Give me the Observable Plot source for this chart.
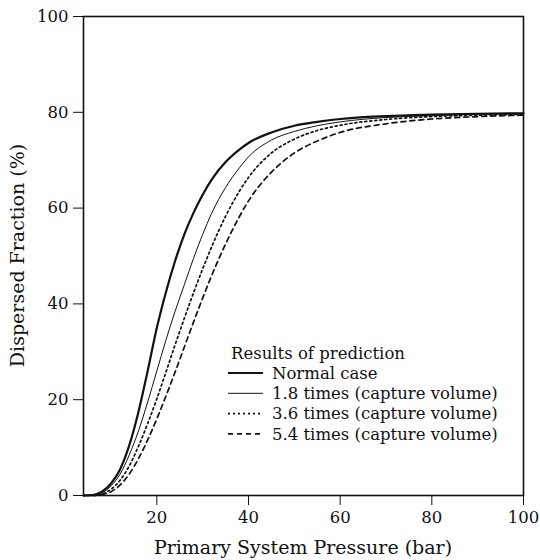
<!DOCTYPE html>
<html><head><meta charset="utf-8">
<script src="https://cdn.jsdelivr.net/npm/d3@7"></script>
<script src="https://cdn.jsdelivr.net/npm/@observablehq/plot@0.6"></script>
<style>body{margin:0;background:#fff} #chart{width:540px;height:560px}</style>
</head><body><div id="chart"></div>
<script>
// Primary system pressure (bar)
const pressure = [4,6,8,10,12,14,16,18,20,22,24,26,28,30,32,35,38,40,45,50,55,60,70,80,90,100];
// Dispersed fraction (%)
const normalCase = [0,0.1,0.8,2.5,5.5,10.5,17.5,26,35,42.5,49,54.5,59,62.8,66,69.6,72.2,73.6,75.8,77.2,78,78.6,79.2,79.5,79.7,79.8];
const times18   = [0,0,0.5,2,4.5,8.5,13.5,19.5,26,32.5,38.5,44,49.5,54.5,59,64.3,68.4,70.7,74.2,76,77.2,78,78.9,79.3,79.6,79.7];
const times36   = [0,0,0.3,1.3,3.2,6.2,10.3,15,20.2,25.8,31.5,37,42.3,47.3,52,58.3,63.5,66.4,71.5,74.4,76.2,77.3,78.5,79.1,79.4,79.6];
const times54   = [0,0,0.2,0.8,2.2,4.5,7.7,11.6,16,20.8,25.8,31,36.2,41.2,46,52.5,58.2,61.5,67.5,71.5,74,75.8,77.6,78.6,79.1,79.4];
const seriesNames = ["Normal case","1.8 times (capture volume)","3.6 times (capture volume)","5.4 times (capture volume)"];
const seriesValues = [normalCase, times18, times36, times54];
const xTicks = [20,40,60,80,100];
const yTicks = [0,20,40,60,80,100];
const xLabel = "Primary System Pressure (bar)";
const yLabel = "Dispersed Fraction (%)";
const legendTitle = "Results of prediction";

const lineStyles = [
  {strokeWidth:2.2, dash:null},
  {strokeWidth:1, dash:null},
  {strokeWidth:1.7, dash:"2,3"},
  {strokeWidth:1.7, dash:"5,4"}
];

const rows = [];
seriesValues.forEach((vals,i)=>vals.forEach((v,j)=>rows.push({series:seriesNames[i], x:pressure[j], y:v})));

const font = "DejaVu Serif";
const chart = Plot.plot({
  width:540, height:560,
  marginLeft:83, marginRight:17, marginTop:16, marginBottom:65,
  style:{fontFamily:font, fontSize:"16.5px", color:"#111", background:"white"},
  x:{domain:[4,100]},
  y:{domain:[0,100]},
  marks:[
    Plot.axisX({ticks:xTicks, tickSize:10, tickPadding:6, label:null, fontSize:16.5}),
    Plot.axisY({ticks:yTicks, tickSize:10, tickPadding:5, label:null, fontSize:16.5}),
    ...seriesNames.map((name,i)=>Plot.line(rows.filter(r=>r.series===name),{
      x:"x", y:"y", stroke:"#111", strokeWidth:lineStyles[i].strokeWidth,
      strokeDasharray:lineStyles[i].dash, curve:"monotone-x"
    })),
    Plot.frame({stroke:"#111", strokeWidth:1.6})
  ]
});
document.getElementById("chart").appendChild(chart);

(function(){
const svg = d3.select(chart);
const xs = chart.scale("x"), ys = chart.scale("y");
const pLeft = xs.range[0], pRight = xs.range[1], pBottom = ys.range[0], pTop = ys.range[1];

svg.append("text").attr("x",(pLeft+pRight)/2).attr("y",560-6)
  .attr("text-anchor","middle").attr("font-family",font).attr("font-size",19).attr("fill","#111").text(xLabel);
svg.append("text").attr("transform",`translate(${24},${(pTop+pBottom)/2}) rotate(-90)`)
  .attr("text-anchor","middle").attr("font-family",font).attr("font-size",19).attr("fill","#111").text(yLabel);

// legend
const lg = svg.append("g").attr("transform",`translate(${pLeft+148},${pTop+337})`).attr("text-anchor","start");
lg.append("text").attr("x",0).attr("y",0).attr("dy","0.35em").attr("text-anchor","start").attr("font-family",font).attr("font-size",16.5).attr("fill","#111").text(legendTitle);
seriesNames.forEach((name,i)=>{
  const yy = 20 + i*20.3;
  lg.append("line").attr("x1",-3).attr("x2",32).attr("y1",yy).attr("y2",yy)
    .attr("stroke","#111").attr("stroke-width",lineStyles[i].strokeWidth)
    .attr("stroke-dasharray",lineStyles[i].dash);
  lg.append("text").attr("x",41).attr("y",yy).attr("dy","0.35em").attr("text-anchor","start").attr("font-family",font).attr("font-size",16.5).attr("fill","#111").text(name);
});
})();
</script></body></html>
